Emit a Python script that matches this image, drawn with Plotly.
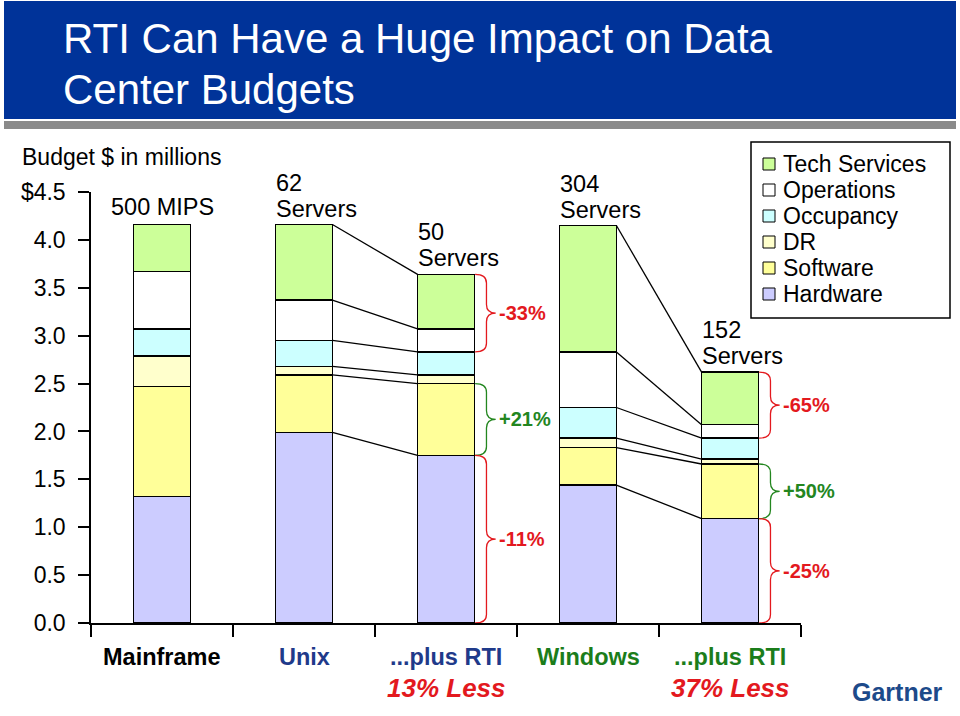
import plotly.graph_objects as go

# ---------------- data ----------------
categories = ["Mainframe", "Unix", "...plus RTI", "Windows", "...plus RTI"]
sub_labels = ["", "", "13% Less", "", "37% Less"]
bar_labels = [["500 MIPS"], ["62", "Servers"], ["50", "Servers"], ["304", "Servers"], ["152", "Servers"]]

components = ["Hardware", "Software", "DR", "Occupancy", "Operations", "Tech Services"]
hardware = [1.32, 1.99, 1.75, 1.44, 1.09]
software = [1.15, 0.60, 0.75, 0.39, 0.57]
dr = [0.32, 0.09, 0.09, 0.10, 0.05]
occupancy = [0.28, 0.27, 0.24, 0.32, 0.22]
operations = [0.60, 0.42, 0.24, 0.58, 0.14]
tech_services = [0.49, 0.79, 0.57, 1.32, 0.55]
series = [hardware, software, dr, occupancy, operations, tech_services]

y_tick_vals = [0.0, 0.5, 1.0, 1.5, 2.0, 2.5, 3.0, 3.5, 4.0, 4.5]
y_tick_text = ["0.0", "0.5", "1.0", "1.5", "2.0", "2.5", "3.0", "3.5", "4.0", "$4.5"]

# change brackets: (bar index, upper level, lower level, text, kind)
brackets = [
    (2, 6, 4, "-33%", "down"),
    (2, 2, 1, "+21%", "up"),
    (2, 1, 0, "-11%", "down"),
    (4, 6, 4, "-65%", "down"),
    (4, 2, 1, "+50%", "up"),
    (4, 1, 0, "-25%", "down"),
]
connect_pairs = [(1, 2), (3, 4)]

# ---------------- styles ----------------
FONT = "Liberation Sans, Arial, Helvetica, sans-serif"
colors = ["#ccccff", "#ffff99", "#ffffcc", "#ccffff", "#ffffff", "#ccff99"]
cat_colors = ["#000000", "#1f3a8a", "#1f3a8a", "#1b7d1b", "#1b7d1b"]
RED = "#e3191e"
GREEN = "#23861f"
NAVY_BAND = "#003399"
BAR_W = 0.4

W, H = 960, 716
ML, MR, MT, MB = 91, 159, 192, 93
PW, PH = W - ML - MR, H - MT - MB


def px_x(px):
    return (px - ML) / PW


def px_y(py):
    return (H - MB - py) / PH


fig = go.Figure()
xs = list(range(len(categories)))

for name, vals, col in zip(components, series, colors):
    fig.add_trace(go.Bar(
        x=xs, y=vals, name=name, width=BAR_W,
        marker=dict(color=col, line=dict(color="black", width=1.5)),
        showlegend=False, hoverinfo="name+y",
    ))

# cumulative levels
n = len(categories)
levels = [[0.0] * n]
for vals in series:
    levels.append([levels[-1][i] + vals[i] for i in range(n)])

# connector lines
lx, ly = [], []
for a, b in connect_pairs:
    for k in range(1, len(levels)):
        lx += [a + BAR_W / 2, b - BAR_W / 2, None]
        ly += [levels[k][a], levels[k][b], None]
fig.add_trace(go.Scatter(x=lx, y=ly, mode="lines", line=dict(color="black", width=1.3),
                         showlegend=False, hoverinfo="skip"))

shapes = []
annotations = []

# braces
for i, up, lo, txt, kind in brackets:
    col = RED if kind == "down" else GREEN
    edge = i + BAR_W / 2
    x0 = edge + 0.005
    xv = edge + 0.085
    xt = edge + 0.15
    yt = levels[up][i]
    yb = levels[lo][i]
    ym = (yt + yb) / 2
    r = 0.09
    path = (f"M {x0},{yt} Q {xv},{yt} {xv},{yt - r} L {xv},{ym + r} "
            f"Q {xv},{ym} {xt},{ym} Q {xv},{ym} {xv},{ym - r} L {xv},{yb + r} "
            f"Q {xv},{yb} {x0},{yb}")
    shapes.append(dict(type="path", path=path, xref="x", yref="y",
                       line=dict(color=col, width=1.3)))
    annotations.append(dict(x=xt + 0.01, y=ym, xref="x", yref="y", text=f"<b>{txt}</b>",
                            showarrow=False, xanchor="left", yanchor="middle",
                            font=dict(family=FONT, size=20, color=col)))

# labels above bars
for i, lines in enumerate(bar_labels):
    top = levels[-1][i]
    if len(lines) == 1:
        annotations.append(dict(x=i, y=top, xref="x", yref="y", text=lines[0], showarrow=False,
                                xanchor="center", yanchor="middle", yshift=18,
                                font=dict(family=FONT, size=23.5, color="black")))
    else:
        for j, t in enumerate(lines):
            shift = 16 + 26 * (len(lines) - 1 - j)
            annotations.append(dict(x=i - BAR_W / 2, y=top, xref="x", yref="y", text=t,
                                    showarrow=False, xanchor="left", yanchor="middle",
                                    yshift=shift, xshift=-2,
                                    font=dict(family=FONT, size=23.5, color="black")))

# category labels
for i, (c, col) in enumerate(zip(categories, cat_colors)):
    annotations.append(dict(x=i, y=px_y(657), xref="x", yref="paper", text=f"<b>{c}</b>",
                            showarrow=False, xanchor="center", yanchor="middle",
                            font=dict(family=FONT, size=23.5, color=col)))
    if sub_labels[i]:
        annotations.append(dict(x=i, y=px_y(688), xref="x", yref="paper",
                                text=f"<b><i>{sub_labels[i]}</i></b>",
                                showarrow=False, xanchor="center", yanchor="middle",
                                font=dict(family=FONT, size=26, color=RED)))

# header band
shapes.append(dict(type="rect", xref="paper", yref="paper", x0=px_x(4), x1=px_x(956),
                   y0=px_y(119), y1=px_y(1), fillcolor=NAVY_BAND, line=dict(width=0)))
shapes.append(dict(type="rect", xref="paper", yref="paper", x0=px_x(4), x1=px_x(956),
                   y0=px_y(129), y1=px_y(121), fillcolor="#8a8a8a", line=dict(width=0)))
title_lines = ["RTI Can Have a Huge Impact on Data", "Center Budgets"]
for t, cy in zip(title_lines, [38, 89]):
    annotations.append(dict(x=px_x(61), y=px_y(cy), xref="paper", yref="paper", text=t,
                            showarrow=False, xanchor="left", yanchor="middle",
                            font=dict(family=FONT, size=42, color="white")))

# axis caption
annotations.append(dict(x=px_x(20), y=px_y(157), xref="paper", yref="paper",
                        text="Budget $ in millions", showarrow=False, xanchor="left",
                        yanchor="middle", font=dict(family=FONT, size=23, color="black")))

# legend (manual)
shapes.append(dict(type="rect", xref="paper", yref="paper", x0=px_x(751), x1=px_x(950),
                   y0=px_y(318), y1=px_y(142), line=dict(color="black", width=1.5),
                   fillcolor="white"))
for k, (name, col) in enumerate(zip(components[::-1], colors[::-1])):
    cy = 164 + 26 * k
    shapes.append(dict(type="rect", xref="paper", yref="paper", x0=px_x(763), x1=px_x(775),
                       y0=px_y(cy + 6), y1=px_y(cy - 6), fillcolor=col,
                       line=dict(color="black", width=1)))
    annotations.append(dict(x=px_x(781), y=px_y(cy), xref="paper", yref="paper", text=name,
                            showarrow=False, xanchor="left", yanchor="middle",
                            font=dict(family=FONT, size=23, color="black")))

# Gartner mark
annotations.append(dict(x=px_x(897), y=px_y(692), xref="paper", yref="paper",
                        text="<b>Gartner</b>", showarrow=False, xanchor="center",
                        yanchor="middle", font=dict(family=FONT, size=25, color="#1d4a8a")))

fig.update_layout(
    width=W, height=H,
    margin=dict(l=ML, r=MR, t=MT, b=MB, pad=0),
    barmode="stack",
    plot_bgcolor="white", paper_bgcolor="white",
    font=dict(family=FONT, color="black"),
    shapes=shapes, annotations=annotations,
    showlegend=False,
    xaxis=dict(range=[-0.5, n - 0.5], tickmode="array",
               tickvals=[i - 0.5 for i in range(n + 1)], showticklabels=False,
               ticks="outside", ticklen=12, tickwidth=1.5, tickcolor="black",
               showline=True, linecolor="black", linewidth=1.5, showgrid=False,
               zeroline=False, fixedrange=True),
    yaxis=dict(range=[0, 4.5], tickmode="array", tickvals=y_tick_vals, ticktext=y_tick_text,
               ticks="outside", ticklen=11, tickwidth=1.5, tickcolor="black",
               showline=True, linecolor="black", linewidth=1.5, showgrid=False,
               zeroline=False, ticklabelstandoff=8,
               tickfont=dict(family=FONT, size=23, color="black"), fixedrange=True),
)

fig.write_html("out.html", post_script="document.body.style.margin='0';",
               config={"displayModeBar": False})
